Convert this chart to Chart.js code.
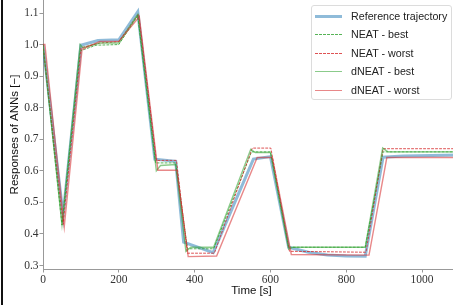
<!DOCTYPE html>
<html>
<head>
<meta charset="utf-8">
<script src="https://cdn.jsdelivr.net/npm/chart.js@4.4.1/dist/chart.umd.min.js"></script>
<style>
  html, body { margin: 0; padding: 0; background: #fff; overflow: hidden; }
  #wrap { position: relative; width: 453px; height: 305px; overflow: hidden; }
  #myChart { position: absolute; left: 0; top: 0; }
  #edge { position: absolute; left: 1px; top: 0; width: 2px; height: 305px; background: #111; }
  #legend {
    position: absolute; left: 311px; top: 5px; width: 139px; height: 93px;
    border: 1px solid #dcdcdc; border-radius: 3px; background: rgba(255,255,255,0.85);
    font-family: "Liberation Sans", Arial, sans-serif; font-size: 10.7px; color: #222;
  }
  .row { position: absolute; left: 0; height: 14px; line-height: 14px; white-space: nowrap; }
  .swatch { position: absolute; left: 3px; width: 27px; }
  .lbl { position: absolute; left: 39px; top: 0; }
</style>
</head>
<body>
<div id="wrap">
  <canvas id="myChart" width="460" height="305"></canvas>
  <div id="edge"></div>
  <div id="legend"></div>
</div>
<script>
// x ticks / y ticks
const xTicks = [0, 200, 400, 600, 800, 1000];
const yTicks = [0.3, 0.4, 0.5, 0.6, 0.7, 0.8, 0.9, 1.0, 1.1];

// reference trajectory
const refT = [0, 53, 100, 145, 200, 250, 295, 350, 371, 449, 555, 600, 648, 700, 750, 800, 850, 897, 950, 1100];
const refV = [1.0, 0.46, 0.998, 1.013, 1.015, 1.104, 0.637, 0.63, 0.374, 0.341, 0.637, 0.645, 0.358, 0.342, 0.333, 0.33, 0.329, 0.643, 0.647, 0.65];

// NEAT - best
const neatBestT = [0, 50, 98, 140, 200, 250, 297, 350, 381, 450, 550, 600, 648, 850, 897, 1100];
const neatBestV = [1.0, 0.428, 0.98, 0.998, 1.0, 1.091, 0.625, 0.625, 0.353, 0.353, 0.66, 0.66, 0.358, 0.358, 0.66, 0.66];

// NEAT - worst
const neatWorstT = [0, 53, 100, 150, 200, 252, 299, 352, 381, 452, 552, 601, 650, 852, 897, 1100];
const neatWorstV = [1.0, 0.43, 0.99, 1.005, 1.009, 1.097, 0.633, 0.633, 0.339, 0.339, 0.672, 0.672, 0.345, 0.342, 0.67, 0.67];

// dNEAT - best
const dneatBestT = [0, 50, 98, 105, 150, 200, 250, 299, 310, 350, 377, 390, 450, 548, 560, 600, 648, 660, 850, 896, 910, 1100];
const dneatBestV = [1.0, 0.43, 1.0, 0.99, 1.005, 1.005, 1.095, 0.6, 0.617, 0.62, 0.345, 0.358, 0.358, 0.668, 0.658, 0.658, 0.352, 0.358, 0.358, 0.672, 0.66, 0.66];

// dNEAT - worst
const dneatWorstT = [0, 5, 56, 103, 150, 200, 254, 303, 353, 383, 458, 565, 605, 655, 860, 907, 1100];
const dneatWorstV = [1.0, 1.0, 0.422, 0.985, 1.01, 1.01, 1.088, 0.602, 0.602, 0.328, 0.33, 0.642, 0.642, 0.335, 0.333, 0.642, 0.642];

const pts = (t, v) => t.map((x, i) => ({ x: x, y: v[i] }));

const SERIES = [
  { label: "Reference trajectory", t: refT, v: refV, color: "rgba(31,119,180,0.5)", width: 3, dash: [], order: 10 },
  { label: "NEAT - best", t: neatBestT, v: neatBestV, color: "#2ca02c", width: 0.8, dash: [2.8, 1.2], order: 4 },
  { label: "NEAT - worst", t: neatWorstT, v: neatWorstV, color: "#d62728", width: 0.8, dash: [2.8, 1.2], order: 3 },
  { label: "dNEAT - best", t: dneatBestT, v: dneatBestV, color: "rgba(44,160,44,0.55)", width: 1.4, dash: [], order: 2 },
  { label: "dNEAT - worst", t: dneatWorstT, v: dneatWorstV, color: "rgba(214,39,40,0.55)", width: 1.4, dash: [], order: 1 },
];

const tickFont = { family: "'Liberation Serif', 'DejaVu Serif', serif", size: 11.5 };
const titleFont = { family: "'Liberation Sans', Arial, sans-serif", size: 11.5 };

new Chart(document.getElementById("myChart").getContext("2d"), {
  type: "line",
  data: {
    datasets: SERIES.map(s => ({
      label: s.label,
      data: pts(s.t, s.v),
      borderColor: s.color,
      backgroundColor: s.color,
      borderWidth: s.width,
      borderDash: s.dash,
      pointRadius: 0,
      tension: 0,
      fill: false,
      order: s.order,
    })),
  },
  options: {
    responsive: false,
    animation: false,
    devicePixelRatio: 1,
    layout: { padding: 0 },
    plugins: {
      legend: { display: false },
      title: { display: false },
      tooltip: { enabled: false },
    },
    scales: {
      x: {
        type: "linear",
        min: 0,
        max: 1100,
        afterBuildTicks: sc => { sc.ticks = xTicks.map(v => ({ value: v })); },
        afterFit: sc => { sc.height = 36; sc.paddingLeft = 0; sc.paddingRight = 0; },
        grid: { drawOnChartArea: false, drawTicks: true, tickLength: 3.5, color: "#999" },
        border: { color: "#999", width: 1 },
        ticks: { color: "#333", font: tickFont, padding: 1, maxRotation: 0, callback: v => String(v) },
        title: { display: true, text: "Time [s]", color: "#111", font: titleFont, padding: { top: 0, bottom: 7 } },
      },
      y: {
        type: "linear",
        min: 0.2889,
        max: 1.1412,
        afterBuildTicks: sc => { sc.ticks = yTicks.map(v => ({ value: v })); },
        afterFit: sc => { sc.width = 43; sc.paddingTop = 0; sc.paddingBottom = 0; },
        grid: { drawOnChartArea: false, drawTicks: true, tickLength: 3.5, color: "#999" },
        border: { color: "#999", width: 1 },
        ticks: { color: "#333", font: tickFont, padding: 1, callback: v => v.toFixed(1) },
        title: { display: true, text: "Responses of ANNs [\u2212]", color: "#111", font: titleFont, padding: { top: 8, bottom: 0 } },
      },
    },
  },
});

// custom legend
const legend = document.getElementById("legend");
const rowY = [3, 21, 40, 58, 77];
SERIES.forEach((s, i) => {
  const row = document.createElement("div");
  row.className = "row";
  row.style.top = rowY[i] + "px";
  const sw = document.createElement("span");
  sw.className = "swatch";
  const h = Math.max(1, Math.round(s.width));
  sw.style.height = h + "px";
  sw.style.top = (7 - h / 2) + "px";
  if (s.dash.length) {
    sw.style.background = `repeating-linear-gradient(to right, ${s.color} 0 2.8px, transparent 2.8px 4px)`;
    sw.style.opacity = "0.8";
  } else {
    sw.style.background = s.color;
  }
  const lb = document.createElement("span");
  lb.className = "lbl";
  lb.textContent = s.label;
  row.appendChild(sw);
  row.appendChild(lb);
  legend.appendChild(row);
});
</script>
</body>
</html>
